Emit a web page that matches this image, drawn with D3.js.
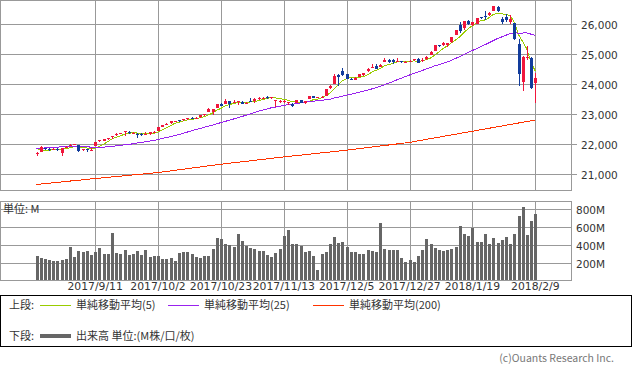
<!DOCTYPE html>
<html>
<head>
<meta charset="utf-8">
<script src="https://cdn.jsdelivr.net/npm/d3@7"></script>
<style>
  body { margin: 0; background: #fff; }
  svg { display: block; }
  .num { font-family: "DejaVu Sans", sans-serif; font-size: 10.5px; fill: #333; }
  .date { font-family: "DejaVu Sans", sans-serif; font-size: 10.8px; fill: #333; }
  .jp { font-family: "Noto Sans CJK JP", sans-serif; font-size: 11px; fill: #333; }
</style>
</head>
<body>
<div id="chart"></div>
<script>
// trading days shown on the chart
var dates = [
  "2017/8/21","2017/8/22","2017/8/23","2017/8/24","2017/8/25","2017/8/28","2017/8/29","2017/8/30","2017/8/31","2017/9/1",
  "2017/9/5","2017/9/6","2017/9/7","2017/9/8","2017/9/11","2017/9/12","2017/9/13","2017/9/14","2017/9/15","2017/9/18",
  "2017/9/19","2017/9/20","2017/9/21","2017/9/22","2017/9/25","2017/9/26","2017/9/27","2017/9/28","2017/9/29","2017/10/2",
  "2017/10/3","2017/10/4","2017/10/5","2017/10/6","2017/10/9","2017/10/10","2017/10/11","2017/10/12","2017/10/13","2017/10/16",
  "2017/10/17","2017/10/18","2017/10/19","2017/10/20","2017/10/23","2017/10/24","2017/10/25","2017/10/26","2017/10/27","2017/10/30",
  "2017/10/31","2017/11/1","2017/11/2","2017/11/3","2017/11/6","2017/11/7","2017/11/8","2017/11/9","2017/11/10","2017/11/13",
  "2017/11/14","2017/11/15","2017/11/16","2017/11/17","2017/11/20","2017/11/21","2017/11/22","2017/11/24","2017/11/27","2017/11/28",
  "2017/11/29","2017/11/30","2017/12/1","2017/12/4","2017/12/5","2017/12/6","2017/12/7","2017/12/8","2017/12/11","2017/12/12",
  "2017/12/13","2017/12/14","2017/12/15","2017/12/18","2017/12/19","2017/12/20","2017/12/21","2017/12/22","2017/12/26","2017/12/27",
  "2017/12/28","2017/12/29","2018/1/2","2018/1/3","2018/1/4","2018/1/5","2018/1/8","2018/1/9","2018/1/10","2018/1/11",
  "2018/1/12","2018/1/16","2018/1/17","2018/1/18","2018/1/19","2018/1/22","2018/1/23","2018/1/24","2018/1/25","2018/1/26",
  "2018/1/29","2018/1/30","2018/1/31","2018/2/1","2018/2/2","2018/2/5","2018/2/6","2018/2/7","2018/2/8","2018/2/9"
];

var open = [
  21674,21729,21853,21837,21809,21837,21689,21862,21917,21981,
  21957,21789,21816,21775,21933,22093,22105,22149,22209,22292,
  22346,22382,22405,22327,22309,22324,22334,22322,22384,22423,
  22564,22659,22679,22762,22788,22805,22828,22868,22871,22899,
  22961,23066,23077,23213,23348,23325,23436,23376,23402,23413,
  23369,23443,23442,23515,23546,23578,23536,23456,23406,23389,
  23393,23333,23380,23462,23380,23485,23593,23539,23548,23598,
  23855,24010,24305,24424,24335,24164,24150,24254,24322,24425,
  24538,24608,24582,24739,24824,24818,24761,24764,24715,24772,
  24795,24849,24809,24850,24965,25114,25309,25313,25303,25406,
  25638,25987,25870,26108,25987,26026,26249,26280,26313,26455,
  26576,26198,26268,26083,26062,25337,24086,24869,24885,24047
];
var high = [
  21726,21910,21871,21872,21868,21854,21869,21911,21989,22003,
  21963,21836,21824,21845,22062,22120,22160,22205,22270,22360,
  22371,22413,22420,22382,22351,22346,22380,22385,22416,22560,
  22642,22685,22777,22775,22791,22831,22873,22905,22890,22957,
  22998,23185,23163,23329,23368,23485,23436,23472,23449,23422,
  23415,23517,23531,23557,23569,23602,23564,23462,23455,23459,
  23410,23366,23476,23474,23445,23611,23599,23576,23613,23843,
  23960,24328,24327,24534,24350,24213,24234,24330,24387,24552,
  24671,24670,24691,24876,24830,24850,24871,24765,24778,24811,
  24838,24871,24864,24941,25106,25299,25311,25402,25370,25575,
  25804,26086,26117,26154,26072,26215,26260,26458,26419,26617,
  26608,26263,26338,26306,26062,25521,24946,25295,24904,24382
];
var low = [
  21600,21729,21785,21757,21791,21770,21600,21843,21916,21946,
  21709,21741,21720,21753,21933,22070,22090,22130,22174,22270,
  22325,22269,22325,22315,22179,22264,22287,22306,22347,22416,
  22556,22623,22660,22730,22717,22764,22800,22827,22857,22873,
  22934,23062,22978,23201,23251,23318,23208,23369,23315,23335,
  23356,23418,23380,23482,23516,23493,23490,23231,23377,23353,
  23302,23242,23362,23358,23345,23485,23518,23533,23520,23596,
  23831,24004,23922,24288,24180,24122,24126,24254,24287,24413,
  24531,24508,24563,24728,24717,24686,24759,24709,24715,24746,
  24780,24719,24742,24825,24964,25106,25236,25281,25232,25369,
  25638,25719,25810,25969,25942,26011,26172,26146,26276,26443,
  26435,26028,26082,26011,25490,23924,23778,24818,23849,23360
];
var close = [
  21704,21900,21812,21783,21814,21808,21865,21892,21948,21988,
  21753,21808,21785,21798,22057,22119,22158,22203,22268,22331,
  22371,22413,22359,22350,22296,22284,22341,22381,22405,22558,
  22642,22662,22775,22774,22761,22831,22873,22841,22872,22957,
  22997,23158,23163,23329,23274,23442,23329,23401,23434,23349,
  23377,23435,23516,23539,23548,23557,23563,23462,23422,23440,
  23409,23271,23458,23358,23430,23591,23526,23558,23581,23837,
  23941,24272,24232,24290,24181,24141,24211,24329,24386,24505,
  24585,24509,24652,24792,24755,24727,24782,24754,24746,24774,
  24838,24719,24824,24923,25075,25296,25283,25386,25369,25575,
  25803,25793,26116,26018,26072,26215,26211,26252,26393,26617,
  26439,26077,26149,26187,25521,24346,24913,24893,23860,24191
];

// volume, millions of shares
var volume = [
  279,252,241,233,222,222,233,245,377,264,
  331,324,331,286,324,365,298,298,535,309,
  298,343,286,298,331,286,343,264,275,275,
  241,241,252,218,309,320,320,298,264,252,
  275,275,354,478,467,410,399,377,523,444,
  388,365,354,331,331,286,264,309,354,501,
  569,410,410,392,320,331,275,117,298,320,
  410,490,422,433,377,320,320,298,298,343,
  331,320,648,354,343,343,343,252,207,230,
  207,275,343,467,410,365,343,331,343,354,
  377,614,523,501,591,433,433,523,410,478,
  422,456,490,410,523,727,829,512,670,749
];

// moving averages as plotted
var ma5 = [
  21830,21811,21768,21775,21803,21823,21816,21832,21865,21900,
  21889,21878,21856,21826,21840,21913,21983,22067,22161,22216,
  22266,22317,22348,22365,22358,22340,22326,22330,22341,22394,
  22465,22530,22608,22682,22723,22761,22803,22816,22836,22875,
  22908,22965,23029,23121,23184,23273,23307,23355,23376,23391,
  23378,23399,23422,23443,23483,23519,23545,23534,23510,23489,
  23459,23401,23400,23387,23385,23422,23473,23493,23537,23619,
  23689,23838,23973,24114,24183,24223,24211,24230,24250,24314,
  24403,24463,24527,24609,24659,24687,24742,24762,24753,24757,
  24779,24766,24780,24816,24876,24967,25080,25193,25282,25382,
  25483,25585,25731,25861,25960,26043,26126,26154,26229,26338,
  26382,26356,26335,26294,26075,25656,25423,25172,24707,24441
];
var ma25 = [
  21838,21851,21858,21865,21874,21886,21896,21904,21910,21916,
  21910,21904,21895,21886,21884,21884,21887,21894,21910,21929,
  21945,21961,21974,21998,22023,22047,22064,22087,22112,22142,
  22175,22207,22242,22275,22306,22349,22392,22434,22477,22513,
  22548,22588,22627,22669,22707,22750,22786,22828,22871,22913,
  22957,23001,23046,23092,23131,23168,23204,23231,23257,23284,
  23307,23323,23348,23368,23386,23410,23425,23441,23451,23473,
  23493,23531,23564,23598,23632,23662,23693,23726,23760,23798,
  23839,23877,23925,23979,24032,24085,24145,24197,24253,24306,
  24356,24404,24455,24508,24558,24612,24652,24699,24742,24797,
  24864,24927,24999,25064,25127,25192,25260,25324,25388,25462,
  25531,25583,25639,25696,25726,25706,25714,25717,25674,25639
];
var ma200 = [
  20633,20647,20661,20676,20690,20704,20718,20732,20747,20761,
  20775,20789,20803,20818,20832,20845,20859,20872,20886,20899,
  20912,20926,20939,20953,20966,20979,20993,21006,21020,21033,
  21052,21070,21089,21107,21126,21145,21163,21182,21200,21219,
  21238,21256,21275,21293,21312,21328,21345,21361,21377,21394,
  21410,21426,21443,21459,21475,21492,21508,21524,21541,21557,
  21572,21587,21602,21617,21632,21647,21662,21677,21692,21707,
  21722,21737,21752,21767,21782,21800,21817,21835,21852,21870,
  21887,21905,21922,21940,21957,21975,21992,22010,22027,22045,
  22070,22095,22120,22145,22170,22195,22220,22245,22270,22294,
  22319,22344,22369,22394,22419,22444,22469,22494,22519,22544,
  22569,22594,22620,22645,22670,22695,22720,22745,22770,22795
];

var priceTicks = [21000, 22000, 23000, 24000, 25000, 26000];
var volumeTicks = [200, 400, 600, 800];
var dateTicks = ["2017/9/11","2017/10/2","2017/10/23","2017/11/13","2017/12/5","2017/12/27","2018/1/19","2018/2/9"];

var maNames = ["単純移動平均(5)", "単純移動平均(25)", "単純移動平均(200)"];
var maColors = ["#99cc00", "#9922ee", "#ff3300"];
var volumeName = "出来高 単位:(M株/口/枚)";

// layout
var WIDTH = 633, HEIGHT = 370;
var PANEL = {LEFT: 0.5, RIGHT: 571.5};
var MAIN = {TOP: 0.5, BOTTOM: 190.5};
var VOL = {TOP: 201.5, BOTTOM: 280.5};
var UP = "#f0163c", DOWN = "#123c9c", GRID = "#999";

var svg = d3.select("#chart").append("svg")
  .attr("width", WIDTH)
  .attr("height", HEIGHT)
  .style("background", "#fff");

var x = d3.scaleLinear()
  .domain([0, dates.length - 1])
  .range([36.5, 535.3]);

var yMain = d3.scaleLinear()
  .domain([20430, 26805])
  .range([MAIN.BOTTOM, MAIN.TOP]);

var yVol = d3.scaleLinear()
  .domain([0, 888])
  .range([VOL.BOTTOM, VOL.TOP]);

var tickIdx = dateTicks.map(function(d) { return dates.indexOf(d); });
var px = function(i) { return Math.round(x(i)); };

// grid lines for both panels
var grid = svg.append("g").attr("shape-rendering", "crispEdges").attr("stroke", GRID);

grid.selectAll(".hmain").data(priceTicks).enter().append("line")
  .attr("x1", PANEL.LEFT).attr("x2", PANEL.RIGHT + 5)
  .attr("y1", function(d) { return Math.round(yMain(d)) + 0.5; })
  .attr("y2", function(d) { return Math.round(yMain(d)) + 0.5; });

grid.selectAll(".hvol").data(volumeTicks).enter().append("line")
  .attr("x1", PANEL.LEFT).attr("x2", PANEL.RIGHT)
  .attr("y1", function(d) { return Math.round(yVol(d)) + 0.5; })
  .attr("y2", function(d) { return Math.round(yVol(d)) + 0.5; });

[MAIN, VOL].forEach(function(p) {
  grid.selectAll(null).data(tickIdx).enter().append("line")
    .attr("x1", function(i) { return px(i) + 0.5; })
    .attr("x2", function(i) { return px(i) + 0.5; })
    .attr("y1", p.TOP).attr("y2", p.BOTTOM);
  grid.append("rect")
    .attr("x", PANEL.LEFT).attr("y", p.TOP)
    .attr("width", PANEL.RIGHT - PANEL.LEFT).attr("height", p.BOTTOM - p.TOP)
    .attr("fill", "none");
});

// price axis labels
svg.append("g").selectAll("text").data(priceTicks).enter().append("text")
  .attr("class", "num")
  .attr("x", 581)
  .attr("y", function(d) { return Math.round(yMain(d)) + 4.5; })
  .text(d3.format(","));

svg.append("g").selectAll("text").data(volumeTicks).enter().append("text")
  .attr("class", "num")
  .attr("x", 576)
  .attr("y", function(d) { return Math.round(yVol(d)) + 4.5; })
  .text(function(d) { return d + "M"; });

svg.append("g").selectAll("text").data(tickIdx).enter().append("text")
  .attr("class", "date")
  .attr("x", function(i) { return x(i); })
  .attr("y", 290)
  .attr("text-anchor", "middle")
  .text(function(i) { return dates[i]; });

svg.append("text").attr("class", "jp")
  .attr("x", 3).attr("y", 213)
  .text("単位: M");

// volume bars
svg.append("g").attr("shape-rendering", "crispEdges")
  .selectAll("rect").data(volume).enter().append("rect")
  .attr("x", function(d, i) { return px(i) - 1; })
  .attr("width", 3)
  .attr("y", function(d) { return Math.round(yVol(d)); })
  .attr("height", function(d) { return Math.round(VOL.BOTTOM - 0.5) - Math.round(yVol(d)); })
  .attr("fill", "#666");

// moving averages
var maSeries = [ma5, ma25, ma200];
maSeries.forEach(function(s, k) {
  svg.append("path")
    .datum(s)
    .attr("fill", "none")
    .attr("stroke", maColors[k])
    .attr("stroke-width", 1)
    .attr("shape-rendering", "crispEdges")
    .attr("d", d3.line().x(function(d, i) { return x(i); }).y(function(d) { return yMain(d); }));
});

// candles
var candles = svg.append("g").attr("shape-rendering", "crispEdges")
  .selectAll("g").data(d3.range(dates.length)).enter().append("g")
  .attr("fill", function(i) { return close[i] >= open[i] ? UP : DOWN; });

candles.append("rect")
  .attr("x", function(i) { return px(i); })
  .attr("width", 1)
  .attr("y", function(i) { return Math.round(yMain(high[i])); })
  .attr("height", function(i) { return Math.max(1, Math.round(yMain(low[i])) - Math.round(yMain(high[i]))); });

candles.append("rect")
  .attr("x", function(i) { return px(i) - 1; })
  .attr("width", 3)
  .attr("y", function(i) { return Math.round(yMain(Math.max(open[i], close[i]))); })
  .attr("height", function(i) {
    return Math.max(1, Math.round(yMain(Math.min(open[i], close[i]))) - Math.round(yMain(Math.max(open[i], close[i]))));
  });

// legend
var legend = svg.append("g");
legend.append("rect")
  .attr("x", 0.5).attr("y", 295.5)
  .attr("width", 631).attr("height", 51)
  .attr("fill", "none").attr("stroke", "#000")
  .attr("shape-rendering", "crispEdges");

legend.append("text").attr("class", "jp").attr("x", 9).attr("y", 309).text("上段:");
legend.append("text").attr("class", "jp").attr("x", 9).attr("y", 340).text("下段:");

var itemX = [40, 168, 313];
maNames.forEach(function(name, k) {
  legend.append("line")
    .attr("x1", itemX[k]).attr("x2", itemX[k] + 31)
    .attr("y1", 305.5).attr("y2", 305.5)
    .attr("stroke", maColors[k]).attr("shape-rendering", "crispEdges");
  legend.append("text").attr("class", "jp")
    .attr("x", itemX[k] + 36).attr("y", 309)
    .text(name);
});

legend.append("line")
  .attr("x1", 40).attr("x2", 71)
  .attr("y1", 336).attr("y2", 336)
  .attr("stroke", "#666").attr("stroke-width", 4)
  .attr("shape-rendering", "crispEdges");
legend.append("text").attr("class", "jp")
  .attr("x", 76).attr("y", 340)
  .text(volumeName);

svg.append("text").attr("class", "jp")
  .attr("x", 614).attr("y", 362)
  .attr("text-anchor", "end")
  .style("fill", "#777")
  .style("font-size", "10.5px")
  .text("(c)Ouants Research Inc.");
</script>
</body>
</html>
